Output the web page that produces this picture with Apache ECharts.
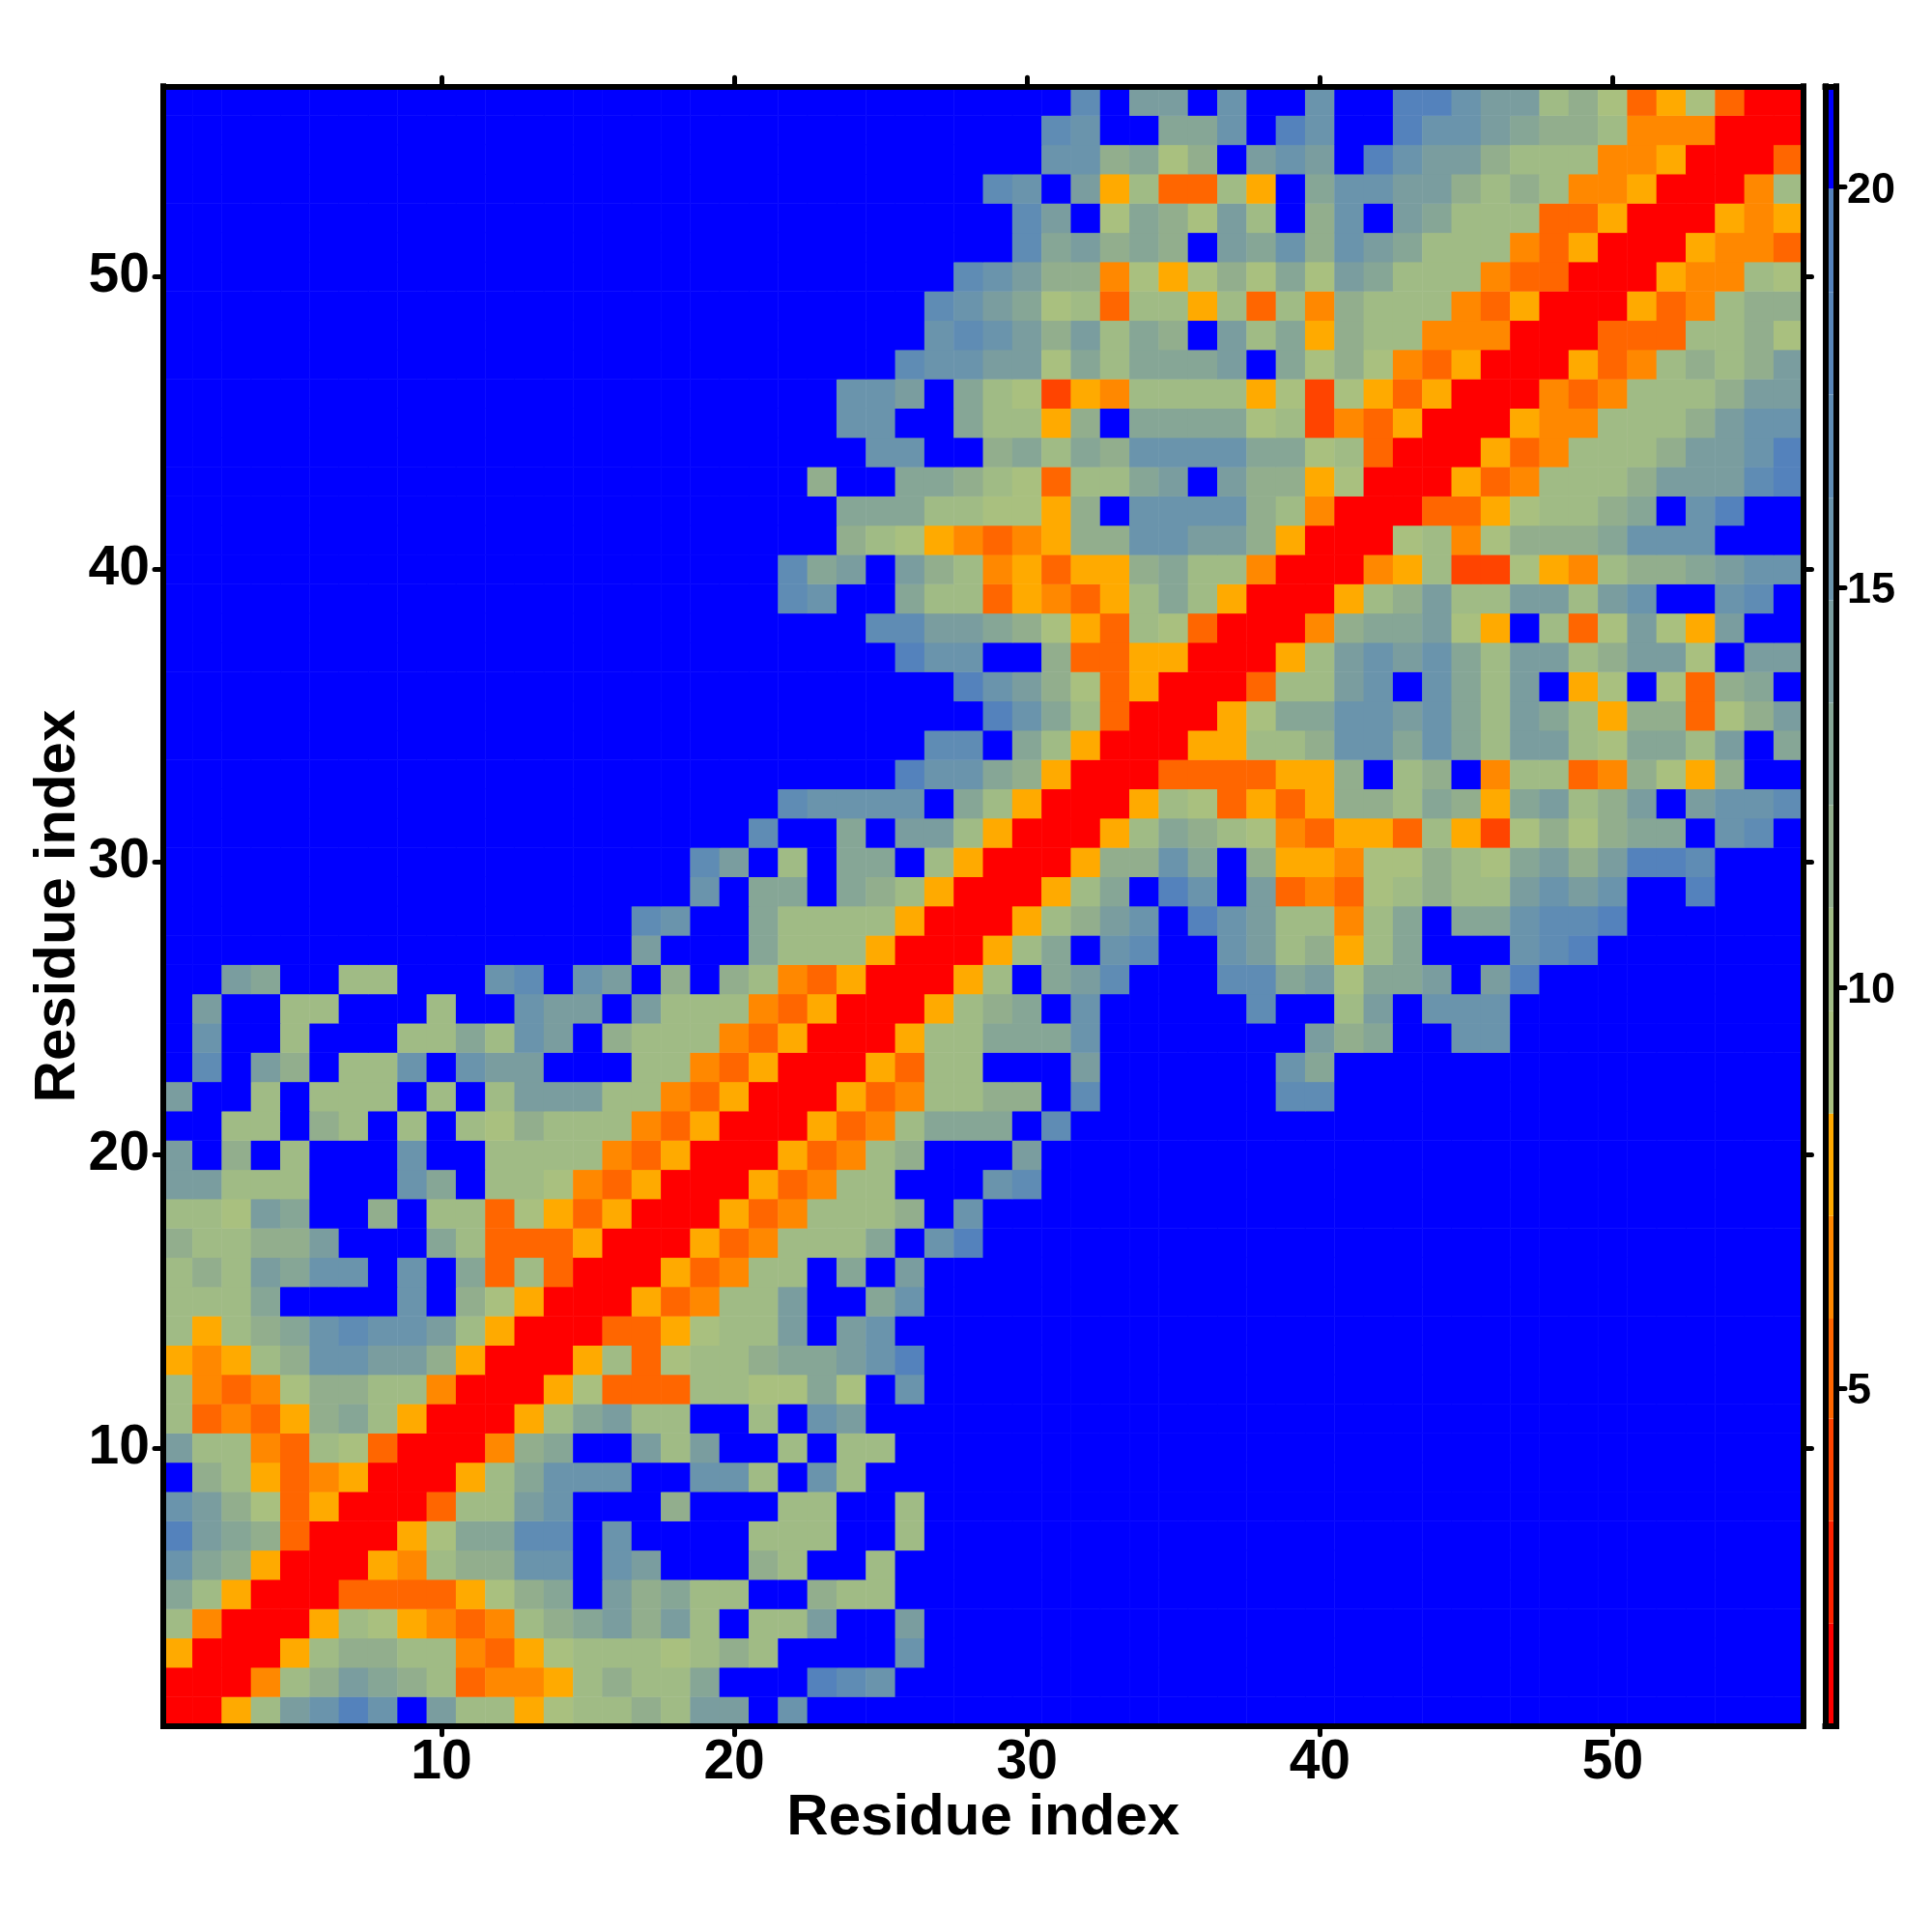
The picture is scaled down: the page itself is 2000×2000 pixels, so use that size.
<!DOCTYPE html>
<html><head><meta charset="utf-8">
<style>html,body{margin:0;padding:0;background:#fff}#c{width:2000px;height:2000px}</style>
<script src="https://cdn.jsdelivr.net/npm/echarts@6/dist/echarts.min.js"></script>
</head><body><div id="c"></div>
<script>
// Distance bands (edges, colours)
const bandEdges = [0.78,2.06,3.34,4.62,5.87,7.15,8.43,9.71,11,12.28,13.56,14.84,16.12,17.41,18.69,19.98,21.26];
const bandColors = ['#ff0000','#ff2200','#ff4400','#ff6600','#ff8800','#ffaa00','#a9c07f','#a0bb85','#92ae8d','#86a696','#7a9d9f','#6a94ac','#5f8cb4','#5986b8','#5482bc','#0000ff'];
// Code letter -> band index
const bandCodes = 'R2DEFGabcdefghi.';
const residues = Array.from({length:56},(_,i)=>String(i+1));
const colourTicks = [5,10,15,20];
// Rows from residue 1 (bottom) to residue 56 (top), ten columns per group; missing tail = beyond 20
const rows = [
"RRGbefif.e bbGabbcbee .f",
"RRRFbcedcb EFFGbcbbd. ..igf",
"GRRRGbccbb FEGabbbabc b....f",
"bFRRRGbaGF EFbcdeceb. bbe..e",
"dbGRRREEEE Gacd.ecdbb ..cbb",
"fdcGRRRGFb ccff.fe... cb..b",
"iedcERRRGa ddgg.f.... bbb..b",
"fecaEGRRRE bbef...c.. .bb..b",
".cbGEFGRRR Gbdfff..ff b.fb",
"ebbFEbaERR RFcd..ebe. .b.bb",
"bEFEGcdbGR RRGbdebb.. b.fe",
"bFEFaccbbF RRRGaEEEbb aada.f",
"GFGbcffeec GRRRGbEabb cddefi",
"bGbcdfgffe bGRRREEGab be.ef",
"bbbd....f. caGRRRGEFb be..df",
"bcbedff.f. dEbERRRGEF bb.d.e",
"cbbcce...d bEEEGRRRGE Fbbbd.fi",
"bbaed..c.b bEaGEGRRRG EFbbbc.f",
"eebbb...fd .bbaFEGRRR GEFbb...fg",
"e.c.b...f. .bbbbFEGRR RGEFbc...e",
"..bb.cb.b. bacbbbFEGR RRGEFbddd. g",
"e..b.bbb.b .beeebbFEG RRRGEFbbcc .g......gg",
".g.ec.bbf. fee...bbFE GRRRGEbb.. .e......fd",
".f..b...bb dbfe.cbbbF EGRRRGbbdd df.......e cd..ff",
".e..bb...b ..fee.ebbb FEGRRRGbcd .f.....g.. be.fff",
"..ed..bb.. .fg.fe.c.c bFEGRRRGb. deg...ggde adde.ei",
".......... ......e... dbbbGRRRGb d.fg..febc Gbd...fgi",
".......... ......gf.. dbbbbGRRRG bcef.ifebb Fbd.ddfggi",
".......... ........f. dd.dcbGRRR Gbd.if.eEF Eabcbbefef ..i",
".......... ........ge .b.dd.bGRR RGccfd.cGG Faacbadece iig",
".......... .......... g..d.eebGR RRGbdcbaFE GGEbGDacac dd.fg.",
".......... .......... .gffff.dbG RRRGbaEGEG ccbdcGdebc e.effg",
".......... .......... .....iffdc GRRREEEEGG c.bc.FbbEF caGc..",
".......... .......... ......gg.d bGRRRGGbbc ffdfdbeeba ddbe.d",
".......... .......... ........if dbERRRGadd ffefdbedbG ccEace",
".......... .......... .......ife caEGRRREbb ef.fdbe.Ga .aEcd.",
".......... .......... .....iff.. cEEGGRRRGb efefdbeebc eea.ee",
".......... .......... ....ggeedc aGEbaERRRF cddeaG.bEa eaGe..",
".......... .......... .gf..dbbEG FEGbdbGRRR Gbcebbeebe f..fg.",
".......... .......... .gde.ecbFG EGGcdbbFRR RFGbDDaGFb ccdeff",
".......... .......... ...cbaGFEF GccffeecGR RRabFacccd fff",
".......... .......... ...dddbbaa Gc.ffffcbF RRREEGabbc d.fi",
".......... .......... ..c..ddcba Ebbde.eccG aRRRGEFbbb ceeegi",
".......... .......... ....ff..cd bdcffffdda bERRRGEFbb bceefi",
".......... .......... ...ff..dbb Gc.ddddabD FEGRRRGFFb bbceff",
".......... .......... ...ffe.dba DGFbbbbGaD aGEGRRRFEF bbbcee",
".......... .......... .....gffee adbddde.da caFEGRRRGE Fbcbce",
".......... .......... ......fgfe cebdc.ebdG cbbFFFRRRE EEbbca",
".......... .......... ......gfed abEbbGbEbF cbbbFEGRRR GEFbcc",
".......... .......... .......gfe ccFaGacada edbbbFEERR RGFFba",
".......... .......... .........g decdc.edfc fedbbbFEGR RRGFFE",
".......... .......... .........g e.adcaeb.c f.edbbbEEG RRRGFG",
".......... .......... ........gf .eGbEEbG.d ffeecbcbFF GRRRFb",
".......... .......... .......... ffcdac.efe .ifeecbbbF FGRRRE",
".......... .......... .......... gf..ddf.if ..iffedccb FFFRRR",
".......... .......... .......... .g.ee.f..f ..iifeebca EGaERR"
];

const cells = [];
rows.forEach((r,y)=>{
  const s = r.replace(/ /g,'').padEnd(56,'.');
  for(let x=0;x<56;x++){
    const b = bandCodes.indexOf(s[x]);
    cells.push([x,y,(bandEdges[b]+bandEdges[b+1])/2]);
  }
});

const FONT='"Liberation Sans"';
const tenth=(i,v)=>Number(v)%10===0;
const GL=169,GT=89.3,GS=1697.5;
const lineS={color:'#000',width:6,cap:'square'};
const tickS={color:'#000',width:5,cap:'round'};
const catAxis=(pos,grid,labels,margin,extra)=>Object.assign({
  type:'category',data:residues,gridIndex:grid,position:pos,z:20,
  axisLine:{show:true,onZero:false,lineStyle:lineS},
  axisTick:{show:true,alignWithLabel:true,interval:tenth,length:9,lineStyle:tickS},
  axisLabel:{show:labels,interval:tenth,fontFamily:FONT,fontWeight:'bold',fontSize:57,color:'#000',margin:margin},
  splitLine:{show:false},splitArea:{show:false}
},extra||{});
const plain=(pos,grid)=>({type:'category',data:['c'],gridIndex:grid,position:pos,z:20,
  axisLine:{show:true,onZero:false,lineStyle:lineS},axisTick:{show:false},axisLabel:{show:false},splitLine:{show:false}});
const nameCfg={nameLocation:'middle',nameMoveOverlap:false,nameTextStyle:{fontFamily:FONT,fontWeight:'bold',fontSize:60,color:'#000'}};

const series=[{
  type:'heatmap',xAxisIndex:0,yAxisIndex:0,data:cells,itemStyle:{borderWidth:0},
  emphasis:{disabled:true},progressive:0,animation:false
}];
bandColors.forEach((c,i)=>{
  series.push({type:'bar',xAxisIndex:2,yAxisIndex:2,stack:'cb',barWidth:'100%',silent:true,
    data:[i===0?bandEdges[1]:bandEdges[i+1]-bandEdges[i]],itemStyle:{color:c},animation:false});
});

const chart=echarts.init(document.getElementById('c'),null,{renderer:'canvas',width:2000,height:2000});
chart.setOption({
  backgroundColor:'#fff',animation:false,
  grid:[
    {left:GL,top:GT,width:GS,height:GS,containLabel:false,outerBoundsMode:'none'},
    {left:1889.5,top:GT,width:11.5,height:GS,containLabel:false,outerBoundsMode:'none'}
  ],
  xAxis:[
    catAxis('bottom',0,true,10,Object.assign({name:'Residue index',nameGap:66},nameCfg)),
    catAxis('top',0,false,0),
    plain('bottom',1),plain('top',1)
  ],
  yAxis:[
    catAxis('left',0,true,14,Object.assign({name:'Residue index',nameGap:79},nameCfg)),
    catAxis('right',0,false,0),
    {type:'value',gridIndex:1,position:'left',min:bandEdges[0],max:bandEdges[16],z:20,
      axisLine:{show:true,onZero:false,lineStyle:lineS},axisTick:{show:false},axisLabel:{show:false},splitLine:{show:false}},
    {type:'value',gridIndex:1,position:'right',min:bandEdges[0],max:bandEdges[16],z:20,
      axisLine:{show:true,onZero:false,lineStyle:lineS},
      axisTick:{show:true,length:9,customValues:colourTicks,lineStyle:tickS},
      axisLabel:{show:true,customValues:colourTicks,formatter:v=>'{v|'+v+'}',margin:11,
        rich:{v:{fontFamily:FONT,fontWeight:'bold',fontSize:45,color:'#000',padding:[7,0,0,0]}}},
      splitLine:{show:false}}
  ],
  visualMap:{show:false,type:'piecewise',seriesIndex:0,dimension:2,
    pieces:bandColors.map((c,i)=>({gte:bandEdges[i],lt:bandEdges[i+1],color:c}))},
  series
});
</script></body></html>
